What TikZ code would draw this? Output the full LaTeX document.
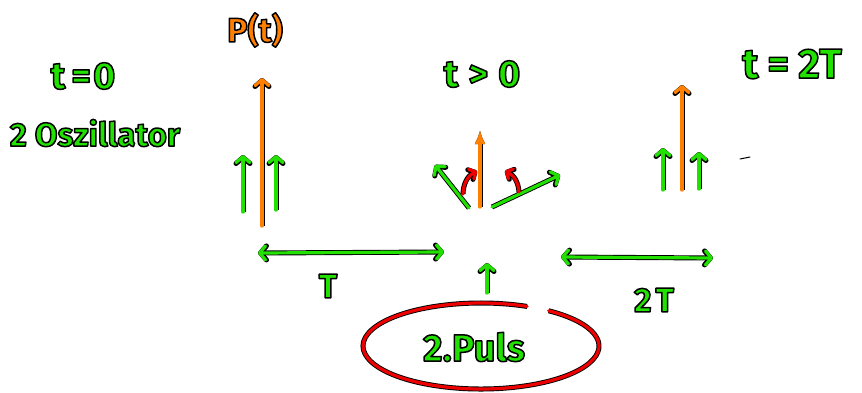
\documentclass[tikz,border=0pt]{standalone}
\usepackage{fontspec}
\setmainfont{Fira Sans}
\usetikzlibrary{arrows.meta}
\definecolor{pen}{HTML}{22E000}
\definecolor{penor}{HTML}{FF8000}
\definecolor{penred}{HTML}{EE0000}
% coloured lettering with a thin black rim (fill + stroke text mode)
\newcommand{\ink}[2]{\textcolor{#1}{\special{pdf:literal direct 0 0 0 RG 1.5 w 1 j 2 Tr}#2\special{pdf:literal direct 0 Tr}}}
\tikzset{
  stroke/.style={line width=3.2pt, line cap=round, line join=round,
    preaction={draw=black, line width=5pt}},
  gline/.style={stroke, draw=pen},
  oline/.style={stroke, draw=penor},
  rline/.style={stroke, draw=penred},
  chev/.style={-{Straight Barb[length=6pt,width=14pt,round]}},
  chevs/.style={{Straight Barb[length=6pt,width=14pt,round]}-{Straight Barb[length=6pt,width=14pt,round]}},
  lbl/.style={inner sep=0pt, font=\bfseries\fontsize{38}{38}\selectfont},
}
\begin{document}
\begin{tikzpicture}[x=1pt,y=-1pt]
\useasboundingbox (0,0) rectangle (862,392);

% headings
\node[lbl] (t0) at (83,76) {\ink{pen}{t\hspace{6pt}=\hspace{2pt}0}};
\node[lbl, font=\bfseries\fontsize{33}{33}\selectfont] (osc) at (95,133) {\ink{pen}{2 Oszillator}};
\node[lbl, font=\bfseries\fontsize{34}{34}\selectfont] (pt) at (255,30) {\ink{penor}{P(t)}};
\node[lbl] (tg) at (482,74) {\ink{pen}{t\hspace{10pt}>\hspace{10pt}0}};
\node[lbl, font=\bfseries\fontsize{42}{42}\selectfont] (t2) at (792,64) {\ink{pen}{t\hspace{9pt}=\hspace{9pt}2T}};

% t = 0 : two parallel spins and the total vector
\coordinate (a0) at (262,226); \coordinate (a1) at (262,78);
\coordinate (l0) at (243,212); \coordinate (l1) at (243,155);
\coordinate (r0) at (276,210); \coordinate (r1) at (276,155);
\draw[gline, chev] (l0) -- (l1);
\draw[gline, chev] (r0) -- (r1);
\draw[oline, chev] (a0) -- (a1);

% t > 0 : spins fanning out
\coordinate (m0) at (480,207); \coordinate (m1) at (480,130);
\coordinate (ml0) at (469,208); \coordinate (ml1) at (435,165);
\coordinate (mr0) at (492,207); \coordinate (mr1) at (560,175);
\draw[gline, chev] (ml0) -- (ml1);
\draw[gline, chev] (mr0) -- (mr1);
\draw[oline, -{Latex[length=14pt,width=11pt]}] (m0) -- (m1);
\coordinate (cl0) at (463,194); \coordinate (cl1) at (477,171);
\coordinate (cr0) at (519,192); \coordinate (cr1) at (505,171);
\draw[rline, -{Straight Barb[length=5pt,width=11pt,round]}] (cl0) to[bend left=30] (cl1);
\draw[rline, -{Straight Barb[length=5pt,width=11pt,round]}] (cr0) to[bend right=30] (cr1);

% t = 2T : spins parallel again
\coordinate (b0) at (682,190); \coordinate (b1) at (682,85);
\coordinate (bl0) at (663,190); \coordinate (bl1) at (663,148);
\coordinate (br0) at (699,189); \coordinate (br1) at (699,152);
\draw[gline, chev] (bl0) -- (bl1);
\draw[gline, chev] (br0) -- (br1);
\draw[oline, chev] (b0) -- (b1);
\coordinate (d0) at (740,159); \coordinate (d1) at (750,157);
\draw[line width=1pt, line cap=round] (d0) -- (d1);

% time spans
\coordinate (s0) at (258,253); \coordinate (s1) at (444,252);
\draw[gline, chevs] (s0) -- (s1);
\node[lbl, font=\bfseries\fontsize{34}{34}\selectfont] (T) at (328,286) {\ink{pen}{T}};
\coordinate (u0) at (487,293); \coordinate (u1) at (487,263);
\draw[gline, chev] (u0) -- (u1);
\coordinate (w0) at (561,257); \coordinate (w1) at (713,258);
\draw[gline, chevs] (w0) -- (w1);
\node[lbl, font=\bfseries\fontsize{34}{34}\selectfont] (TT) at (654,300) {\ink{pen}{2\hspace{4pt}T}};

% second pulse, circled (ring left open at the upper right)
\node[lbl] (puls) at (474,347) {\ink{pen}{2.Puls}};
\coordinate (ring) at (481,346);
\draw[rline] (ring) ++(-67:118 and 43) arc[start angle=-67, end angle=-415, x radius=118, y radius=43];
\end{tikzpicture}
\end{document}
